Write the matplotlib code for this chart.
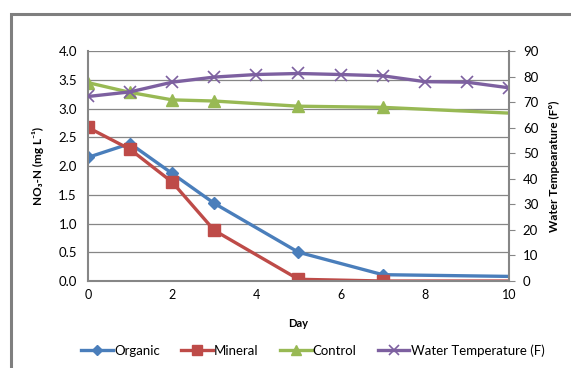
import matplotlib
matplotlib.use('Agg')
import matplotlib.pyplot as plt
from matplotlib.patches import Rectangle

plt.rcParams['font.family'] = ['Lato', 'DejaVu Sans']

# data
days = [0, 1, 2, 3, 5, 7, 10]
organic = [2.15, 2.39, 1.87, 1.35, 0.50, 0.11, 0.08]
mineral = [2.67, 2.29, 1.72, 0.88, 0.03, 0.00, 0.00]
control = [3.45, 3.28, 3.15, 3.13, 3.04, 3.02, 2.92]

temp_days = [0, 1, 2, 3, 4, 5, 6, 7, 8, 9, 10]
water_temp = [72.2, 74.0, 77.8, 79.8, 80.8, 81.2, 80.8, 80.3, 78.0, 77.8, 75.6]

y_ticks = [0.0, 0.5, 1.0, 1.5, 2.0, 2.5, 3.0, 3.5, 4.0]
temp_ticks = [0, 10, 20, 30, 40, 50, 60, 70, 80, 90]
x_ticks = [0, 2, 4, 6, 8, 10]

blue = '#4A7EBB'
red = '#BE4B48'
green = '#98B954'
purple = '#7D60A0'
axis_grey = '#868686'

fig = plt.figure(figsize=(5.71, 3.68), dpi=100)
ax = fig.add_axes([0.1541, 0.2364, 0.7373, 0.625])

# outer chart frame (cropped)
fig.patches.append(Rectangle((11 / 571, -0.1), 1.2, 1 - 14 / 368 + 0.1, transform=fig.transFigure,
                             fill=False, edgecolor='#7f7f7f', linewidth=2.2))

mk = list(range(len(days) - 1))
l1, = ax.plot(days, organic, color=blue, lw=2.4, marker='D', ms=6, markevery=mk, label='Organic')
l2, = ax.plot(days, mineral, color=red, lw=2.4, marker='s', ms=8, markevery=mk, label='Mineral')
l3, = ax.plot(days, control, color=green, lw=2.4, marker='^', ms=8, markevery=mk, label='Control')

ax.set_xlim(0, 10)
ax.set_ylim(0, 4.0)
ax.set_yticks(y_ticks)
ax.set_yticklabels([f'{v:.1f}' for v in y_ticks])
ax.set_xticks(x_ticks)
ax.yaxis.grid(True, color=axis_grey, lw=0.9)
ax.set_axisbelow(True)
ax.tick_params(axis='x', length=0, labelsize=9, pad=6)
ax.tick_params(axis='y', length=0, labelsize=9.5, pad=8)
for s in ['top', 'right']:
    ax.spines[s].set_visible(False)
for s in ['left', 'bottom']:
    ax.spines[s].set_color(axis_grey)
    ax.spines[s].set_linewidth(1.5)

ax2 = ax.twinx()
l4, = ax2.plot(temp_days, water_temp, color=purple, lw=2.4, marker='x', ms=8, mew=1.2,
               label='Water Temperature (F)')
ax2.set_ylim(0, 90)
ax2.set_yticks(temp_ticks)
ax2.tick_params(axis='y', length=4, color=axis_grey, labelsize=9.5, pad=6)
for s in ['top', 'left', 'bottom']:
    ax2.spines[s].set_visible(False)
ax2.spines['right'].set_color(axis_grey)
ax2.spines['right'].set_linewidth(1.5)

ax.set_xlabel('Day', fontsize=8, fontweight='bold', labelpad=12)
ax.set_ylabel('NO₃-N (mg L⁻¹)', fontsize=8.5, fontweight='bold', labelpad=10)
ax2.set_ylabel('Water Tempearature (F°)', fontsize=8.5, fontweight='bold', labelpad=8)

fig.legend(handles=[l1, l2, l3, l4], loc='center', bbox_to_anchor=(0.548, 0.047), ncol=4,
           frameon=False, fontsize=9.5, handlelength=2.4, handletextpad=0.1, columnspacing=1.6,
           markerscale=0.85)

fig.savefig('out.png', dpi=100)
